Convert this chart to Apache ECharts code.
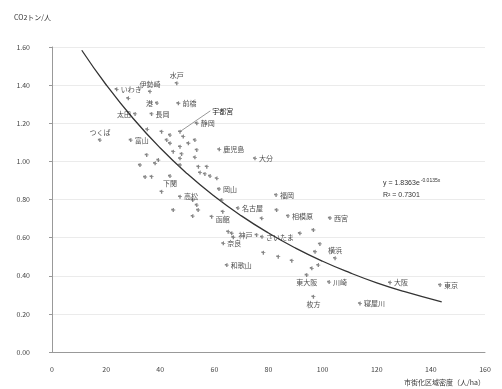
<!DOCTYPE html>
<html><head><meta charset="utf-8">
<script src="https://cdn.jsdelivr.net/npm/echarts@6/dist/echarts.min.js"></script>
<style>html,body{margin:0;padding:0;background:#fff}#c{width:502px;height:389px}</style>
</head><body><div id="c"></div>
<script>
// labeled cities: name, density x, value y
var labelNames = ['水戸','伊勢崎','いわき','港','前橋','太田','長岡','静岡','つくば','富山','鹿児島','大分','下関','高松','岡山','函館','福岡','名古屋','相模原','西宮','神戸','さいたま','奈良','和歌山','横浜','東大阪','川崎','枚方','大阪','東京','寝屋川'];
var labelX = [46.1,36.2,23.9,38.8,46.7,30.7,36.8,53.5,17.7,29.1,61.8,75.0,43.6,47.3,61.7,63.1,82.8,68.7,87.2,102.7,75.6,77.6,63.3,64.6,104.6,94.1,102.4,96.6,124.9,143.4,113.8];
var labelY = [1.41,1.366,1.378,1.306,1.305,1.249,1.249,1.20,1.112,1.112,1.063,1.016,0.923,0.815,0.855,0.736,0.824,0.755,0.714,0.703,0.614,0.604,0.57,0.456,0.492,0.404,0.367,0.29,0.364,0.352,0.255];
// unlabeled cities
var otherX = [28.2,35.2,40.5,43.6,48.5,42.4,50.4,52.8,43.6,47.3,44.8,53.5,35.0,39.3,47.3,47.9,52.8,32.5,38.1,47.3,54.1,57.2,54.7,56.5,58.4,60.9,36.8,34.4,40.5,44.8,53.5,52.0,54.0,52.0,65.1,67.0,77.5,83.0,66.4,91.6,96.6,99.0,97.2,78.1,83.6,88.6,96.0,98.4,62.7,59.0,47.3];
var otherY = [1.331,1.168,1.156,1.138,1.13,1.112,1.095,1.112,1.095,1.077,1.051,1.06,1.034,1.007,1.016,1.039,1.021,0.981,0.99,0.981,0.972,0.972,0.941,0.934,0.923,0.911,0.92,0.918,0.841,0.745,0.771,0.797,0.745,0.713,0.631,0.602,0.701,0.745,0.623,0.623,0.64,0.567,0.526,0.521,0.5,0.479,0.439,0.456,0.797,0.71,1.156];
// exponential trend line
var trendX = [11,20,30,40,50,60,70,80,90,100,110,120,130,144];
var trendY = [1.583,1.402,1.225,1.070,0.935,0.817,0.714,0.624,0.545,0.476,0.416,0.363,0.318,0.263];
// leader line for 宇都宮
var leaderX = [47.3,58.5];
var leaderY = [1.156,1.265];
var yTicks = ['0.00','0.20','0.40','0.60','0.80','1.00','1.20','1.40','1.60'];

var posMap = {'水戸':'top','伊勢崎':'top','つくば':'top','港':'left','太田':'left','神戸':'left','下関':'bottom','函館':'bottom','東大阪':'bottom','枚方':'bottom','横浜':'top'};
var plus = 'path://M4,0h2v4h4v2h-4v4h-4v-4h-4v-4h4z';
var font = '"Noto Sans CJK JP", "Noto Sans", sans-serif';

var labeled = labelNames.map(function(n,i){
  return {name:n, value:[labelX[i], labelY[i]], label:{show:true, position: posMap[n]||'right', distance:2}};
});
var others = otherX.map(function(x,i){return [x, otherY[i]];});
var trend = trendX.map(function(x,i){return [x, trendY[i]];});
var leader = leaderX.map(function(x,i){return [x, leaderY[i]];});

var chart = echarts.init(document.getElementById('c'), null, {renderer:'canvas'});
chart.setOption({
  animation:false,
  backgroundColor:'#fff',
  textStyle:{fontFamily:font},
  grid:{left:52, right:17, top:47, bottom:37},
  xAxis:{type:'value', min:0, max:160, interval:20,
    name:'市街化区域密度（人/ha）', nameLocation:'end', nameGap:0,
    nameTextStyle:{fontSize:7, color:'#333', align:'right', verticalAlign:'top', padding:[27,0,0,0]},
    axisLine:{lineStyle:{color:'#999', width:1}}, axisTick:{show:false},
    axisLabel:{fontSize:7, color:'#444', margin:14},
    splitLine:{show:false}},
  yAxis:{type:'value', min:0, max:1.6, interval:0.2,
    name:'CO2トン/人', nameLocation:'end', nameGap:26,
    nameTextStyle:{fontSize:7, color:'#333', align:'left', padding:[0,0,0,-38]},
    axisLine:{show:true, lineStyle:{color:'#999'}}, axisTick:{show:true, length:3, lineStyle:{color:'#999'}},
    axisLabel:{fontSize:7, color:'#444', margin:22, formatter:function(v){return yTicks[Math.round(v/0.2)];}},
    splitLine:{show:true, lineStyle:{color:'#ebebeb', width:1}}},
  series:[
    {type:'line', data:trend, smooth:true, symbol:'none', lineStyle:{color:'#333', width:1.3}, z:3},
    {type:'line', data:leader, symbol:'none', lineStyle:{color:'#999', width:1}, z:2,
      endLabel:{show:true, formatter:'宇都宮', fontSize:7, color:'#222', distance:2}},
    {type:'scatter', data:others, symbol:plus, symbolSize:4, itemStyle:{color:'#666'}, z:4},
    {type:'scatter', data:labeled, symbol:plus, symbolSize:4, itemStyle:{color:'#666'}, z:5,
      label:{formatter:'{b}', fontSize:7, color:'#222', fontFamily:font}}
  ],
  graphic:[
    {type:'text', left:383, top:178, style:{text:'{a|y = 1.8363e}{s|-0.0135x}', rich:{a:{fontSize:7, fill:'#333'}, s:{fontSize:5, fill:'#333', verticalAlign:'top', padding:[0,0,6,1]}}, font:'7px '+font}},
    {type:'text', left:383, top:192, style:{text:'R² = 0.7301', fontSize:7, fill:'#333', font:'7px '+font}}
  ]
});
</script>
</body></html>
